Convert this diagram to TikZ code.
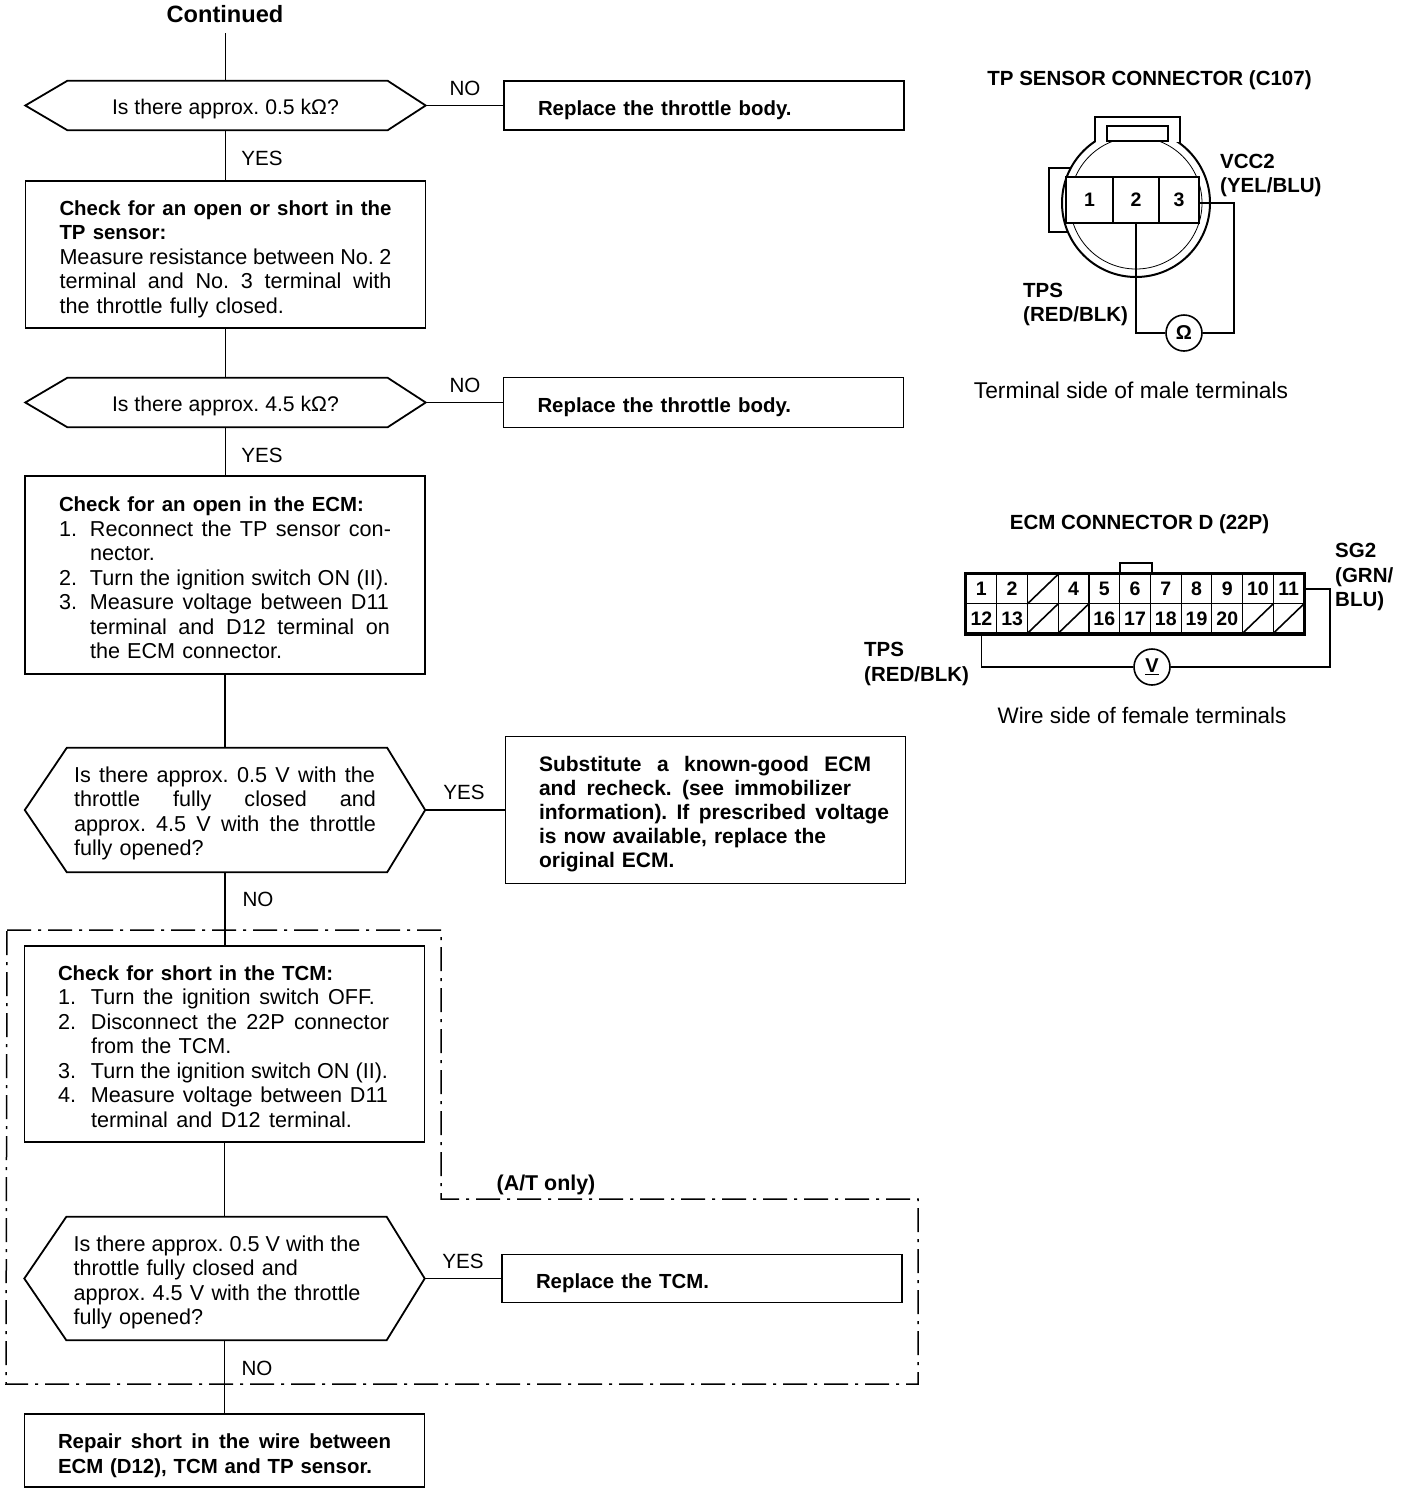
\documentclass[tikz,border=0pt]{standalone}
\usepackage{fontspec}
\setmainfont{Liberation Sans}
\newcommand{\stretchline}[2]{\leavevmode\hbox to #1pt{\spaceskip=.3333em plus .4em minus .09em #2}}
\newcommand{\numitem}[2][31]{\makebox[#1pt][l]{#2}}
\newcommand{\toppad}[1]{\rule{0pt}{#1pt}}
\newcommand{\boldpart}[1]{{\fontsize{20.4}{24.5}\selectfont\bfseries #1}}
\newcommand{\decisionoutline}[1]{\draw[line width=1.8pt] (#1.west) -- ([xshift=42pt]#1.north west) -- ([xshift=-38pt]#1.north east) -- (#1.east) -- ([xshift=-38pt]#1.south east) -- ([xshift=42pt]#1.south west) -- cycle;}
\tikzset{
	bodyfont/.style={font=\fontsize{21.6}{24.5}\selectfont},
	flowbox/.style={draw,line width=1.8pt,inner sep=0pt,align=left,bodyfont,minimum width=400pt},
	decisionbox/.style={inner sep=0pt,bodyfont,minimum width=400pt},
	answerlabel/.style={inner sep=0pt,font=\fontsize{20.6}{24}\selectfont},
	boldlabel/.style={inner sep=0pt,font=\fontsize{20.5}{24.5}\selectfont\bfseries,align=left},
	flowline/.style={line width=1.5pt},
	pinbox/.style={draw,fill=white,line width=1.6pt,inner sep=0pt,font=\fontsize{19.5}{24}\selectfont\bfseries},
	meter/.style={draw,circle,line width=1.6pt,inner sep=0pt,minimum size=36pt,fill=white,font=\fontsize{20}{24}\selectfont\bfseries},
}
\begin{document}
\frenchspacing
\begin{tikzpicture}[x=1pt,y=-1pt]
	\useasboundingbox (0,0) rectangle (1408,1494);
	\fill[color=white] (0,0) rectangle (1408,1494);
	\draw[line width=1.5pt,dash pattern=on 24pt off 7pt on 3pt off 7pt] (7,930) -- (441,930) -- (441,1199) -- (918,1199) -- (918,1384) -- (6,1384) -- cycle;
	\node[answerlabel,font=\fontsize{23.6}{24}\selectfont\bfseries] (continued) at (225,14) {Continued};
	\coordinate (start) at (225.5,33);
	\node[decisionbox,minimum height=49pt,font=\fontsize{21.2}{24.5}\selectfont] (dec1) at (225.5,105.5) {\toppad{23}Is there approx. 0.5 kΩ?};
	\decisionoutline{dec1}
	\node[flowbox,text width=332pt,minimum height=49pt] (act1) at (704,105.5) {\toppad{24}\boldpart{Replace the throttle body.}};
	\node[flowbox,text width=332pt,minimum height=147pt] (chk1) at (225.5,254.5) {\toppad{24}\stretchline{332}{\boldpart{Check for an open or short in the}}\\\boldpart{TP sensor:}\\\stretchline{332}{Measure resistance between No. 2}\\\stretchline{332}{terminal and No. 3 terminal with}\\the throttle fully closed.};
	\node[decisionbox,minimum height=49pt,font=\fontsize{21.2}{24.5}\selectfont] (dec2) at (225.5,402.5) {\toppad{23}Is there approx. 4.5 kΩ?};
	\decisionoutline{dec2}
	\node[flowbox,text width=332pt,minimum height=50pt] (act2) at (703.5,402.5) {\toppad{24}\boldpart{Replace the throttle body.}};
	\node[flowbox,text width=332pt,minimum height=198pt] (chk2) at (225,575) {\toppad{21}\boldpart{Check for an open in the ECM:}\\\numitem{1.}\stretchline{301}{Reconnect the TP sensor con-}\\\numitem{}nector.\\\numitem{2.}\stretchline{299}{Turn the ignition switch ON (II).}\\\numitem{3.}\stretchline{299}{Measure voltage between D11}\\\numitem{}\stretchline{300}{terminal and D12 terminal on}\\\numitem{}the ECM connector.};
	\node[decisionbox,text width=302pt,align=left,minimum height=124pt] (dec3) at (225,810) {\toppad{22}\stretchline{301}{Is there approx. 0.5 V with the}\\\stretchline{302}{throttle fully closed and}\\\stretchline{302}{approx. 4.5 V with the throttle}\\fully opened?};
	\decisionoutline{dec3}
	\node[flowbox,text width=333pt,minimum height=147pt,font=\fontsize{21}{24}\selectfont\bfseries] (act3) at (705.5,810) {\toppad{23}\stretchline{332}{Substitute a known-good ECM}\\\stretchline{312}{and recheck. (see immobilizer}\\\stretchline{350}{information). If prescribed voltage}\\is now available, replace the\\original ECM.};
	\node[flowbox,text width=333pt,minimum height=196pt] (chk3) at (224.5,1044) {\toppad{20}\boldpart{Check for short in the TCM:}\\\numitem[33]{1.}\stretchline{284}{Turn the ignition switch OFF.}\\\numitem[33]{2.}\stretchline{298}{Disconnect the 22P connector}\\\numitem[33]{}from the TCM.\\\numitem[33]{3.}\stretchline{297}{Turn the ignition switch ON (II).}\\\numitem[33]{4.}\stretchline{297}{Measure voltage between D11}\\\numitem[33]{}\stretchline{261}{terminal and D12 terminal.}};
	\node[decisionbox,text width=302pt,align=left,minimum height=123pt] (dec4) at (224.5,1278.5) {\toppad{23}\stretchline{287}{Is there approx. 0.5 V with the}\\throttle fully closed and\\\stretchline{287}{approx. 4.5 V with the throttle}\\fully opened?};
	\decisionoutline{dec4}
	\node[flowbox,text width=332pt,minimum height=48pt] (act4) at (702,1278.5) {\toppad{25}\boldpart{Replace the TCM.}};
	\node[flowbox,text width=333pt,minimum height=73pt] (chk4) at (224.5,1450.5) {\toppad{25}\stretchline{333}{\boldpart{Repair short in the wire between}}\\\stretchline{314}{\boldpart{ECM (D12), TCM and TP sensor.}}};
	\draw[flowline] (start) -- (dec1.north);
	\draw[flowline] (dec1.east) -- (act1.west);
	\draw[flowline] (dec1.south) -- (chk1.north);
	\draw[flowline] (chk1.south) -- (dec2.north);
	\draw[flowline] (dec2.east) -- (act2.west);
	\draw[flowline] (dec2.south) -- (dec2.south |- chk2.north);
	\draw[flowline] (chk2.south) -- (dec3.north);
	\draw[flowline] (dec3.east) -- (act3.west);
	\draw[flowline] (dec3.south) -- (dec3.south |- chk3.north);
	\draw[flowline] (chk3.south) -- (dec4.north);
	\draw[flowline] (dec4.east) -- (act4.west);
	\draw[flowline] (dec4.south) -- (chk4.north);
	\node[answerlabel] (no1) at (465,88) {NO};
	\node[answerlabel] (yes1) at (262,158) {YES};
	\node[answerlabel] (no2) at (465,385) {NO};
	\node[answerlabel] (yes2) at (262,455) {YES};
	\node[answerlabel] (yes3) at (464,792) {YES};
	\node[answerlabel] (no3) at (258,899) {NO};
	\node[answerlabel] (yes4) at (463,1261) {YES};
	\node[answerlabel] (no4) at (257,1368) {NO};
	\node[boldlabel,font=\fontsize{21.4}{24}\selectfont\bfseries] (atonly) at (546,1185) {(A/T only)};
	\node[boldlabel] (tptitle) at (1149.5,80) {TP SENSOR CONNECTOR (C107)};
	\draw[line width=1.8pt] (1049,168) rectangle (1090,232);
	\draw[line width=2pt] (1095,160) -- (1095,117) -- (1180,117) -- (1180,160);
	\fill[color=white,draw=black,line width=2pt] (1136,203) circle[radius=74];
	\draw[line width=0.8pt] (1136,203) circle[radius=66];
	\fill[color=white] (1095,120) rectangle (1180,142);
	\draw[line width=2pt] (1095,117) -- (1095,142);
	\draw[line width=2pt] (1180,117) -- (1180,142);
	\draw[line width=1.5pt] (1107,126) rectangle (1168,141);
	\node[pinbox,minimum width=47pt,minimum height=46pt] (tp1) at (1089.5,200) {1};
	\node[pinbox,minimum width=46pt,minimum height=46pt] (tp2) at (1136,200) {2};
	\node[pinbox,minimum width=40pt,minimum height=46pt] (tp3) at (1179,200) {3};
	\node[meter] (ohm) at (1184,333) {Ω};
	\coordinate (vccbend) at (1234,203);
	\draw[line width=1.8pt] (tp2.south) |- (ohm.west);
	\draw[line width=1.8pt] (ohm.east) -| (vccbend) -- (tp3.east |- vccbend);
	\node[boldlabel,anchor=west] (vcclabel) at (1220,175.5) {VCC2\\(YEL/BLU)};
	\node[boldlabel,anchor=west] (tpslabel) at (1023,304.5) {TPS\\(RED/BLK)};
	\node[inner sep=0pt,font=\fontsize{22.8}{24}\selectfont] (tpnote) at (1131,390) {Terminal side of male terminals};
	\node[boldlabel] (ecmtitle) at (1139.5,524) {ECM CONNECTOR D (22P)};
	\draw[line width=2pt] (1120,574) -- (1120,563) -- (1152,563) -- (1152,574);
	\foreach \lab [count=\i] in {1,2,,4,5,6,7,8,9,10,11}
		\node[pinbox,minimum width=30.73pt,minimum height=29.5pt,line width=1.2pt] (ecm\i) at (981.4+30.73*\i-30.73,589) {\lab};
	\foreach \lab [count=\i from 12] in {12,13,,,16,17,18,19,20,,}
		\node[pinbox,minimum width=30.73pt,minimum height=29.5pt,line width=1.2pt] (ecm\i) at (981.4+30.73*\i-368.76,618.5) {\lab};
	\foreach \c in {3,14,15,21,22}
		\draw[line width=1.6pt] (ecm\c.south west) -- (ecm\c.north east);
	\draw[line width=3.5pt] (ecm1.north west) rectangle (ecm22.south east);
	\node[meter] (volt) at (1152,667) {\underline{V}};
	\coordinate (sgbend) at (1330,589);
	\draw[line width=1.8pt] (ecm12.south) |- (volt.west);
	\draw[line width=1.8pt] (volt.east) -| (sgbend) -- (ecm11.east);
	\node[boldlabel,anchor=west] (sglabel) at (1335,577) {SG2\\(GRN/\\BLU)};
	\node[boldlabel,anchor=west] (ecmtps) at (864,664) {TPS\\(RED/BLK)};
	\node[inner sep=0pt,font=\fontsize{22.4}{24}\selectfont] (ecmnote) at (1142,715) {Wire side of female terminals};
\end{tikzpicture}
\end{document}
